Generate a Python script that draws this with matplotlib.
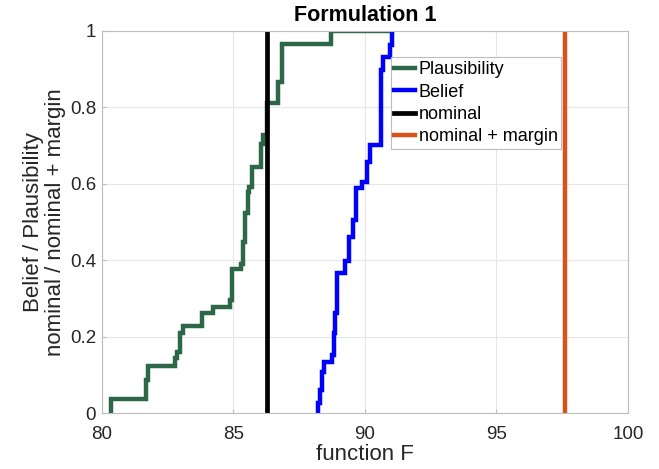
import matplotlib
matplotlib.use("Agg")
import matplotlib.pyplot as plt
import numpy as np

plt.rcParams['font.family'] = ['Liberation Sans', 'DejaVu Sans']

# Plausibility staircase: jump locations and levels after the jump
pl_x = [80.34, 81.67, 81.77, 82.79, 82.87, 82.99, 83.08, 83.80, 84.24, 84.88,
        84.97, 85.28, 85.38, 85.46, 85.55, 85.61, 85.70, 86.05, 86.12, 86.30,
        86.69, 86.84, 88.71]
pl_y = [0.037, 0.087, 0.124, 0.145, 0.161, 0.211, 0.229, 0.263, 0.279, 0.296,
        0.376, 0.390, 0.449, 0.523, 0.579, 0.592, 0.645, 0.704, 0.727, 0.810,
        0.867, 0.965, 1.0]

# Belief staircase
be_x = [88.21, 88.30, 88.38, 88.45, 88.77, 88.83, 88.88, 88.93, 89.25, 89.38,
        89.54, 89.67, 89.89, 90.08, 90.18, 90.61, 90.68, 90.94, 91.03]
be_y = [0.026, 0.061, 0.109, 0.135, 0.152, 0.209, 0.261, 0.366, 0.399, 0.462,
        0.505, 0.588, 0.605, 0.658, 0.701, 0.897, 0.932, 0.963, 1.0]

x_end = 91.03
nominal = 86.3
nominal_margin = 97.6

green = '#2c6747'
blue = '#0000ff'
orange = '#d95319'

fig = plt.figure(figsize=(6.59, 4.69), dpi=100)
ax = fig.add_axes([0.1543, 0.1188, 0.7987, 0.8157])

def stairs(xs, ys, xe):
    X = [xs[0]] + list(xs) + [xe]
    Y = [0.0] + list(ys) + [ys[-1]]
    return X, Y

X, Y = stairs(pl_x, pl_y, x_end)
ax.step(X, Y, where='post', color=green, lw=3.2, label='Plausibility',
        solid_joinstyle='miter')
X, Y = stairs(be_x, be_y, x_end)
ax.step(X, Y, where='post', color=blue, lw=3.2, label='Belief',
        solid_joinstyle='miter')
ax.plot([nominal, nominal], [0, 1], color='black', lw=3.4, label='nominal')
ax.plot([nominal_margin, nominal_margin], [0, 1], color=orange, lw=3.2,
        label='nominal + margin')

ax.set_xlim(80, 100)
ax.set_ylim(0, 1)
ax.set_xticks([80, 85, 90, 95, 100])
ax.set_yticks([0, 0.2, 0.4, 0.6, 0.8, 1])
ax.set_yticklabels(['0', '0.2', '0.4', '0.6', '0.8', '1'])
ax.grid(True, color='#e6e6e6', lw=0.8)
ax.set_axisbelow(True)
for s in ax.spines.values():
    s.set_color('#bdbdbd')
    s.set_linewidth(0.8)
ax.tick_params(direction='in', length=3, color='#bdbdbd', labelsize=13.5,
               labelcolor='#262626')
ax.tick_params(axis='x', pad=9)
ax.tick_params(axis='y', pad=4)

ax.set_title('Formulation 1', fontsize=15.5, fontweight='bold', pad=7)
ax.set_xlabel('function F', fontsize=16, color='#262626', labelpad=1)
ax.set_ylabel('Belief / Plausibility\nnominal / nominal + margin', fontsize=16,
              color='#262626', labelpad=3, linespacing=1.05)

leg = ax.legend(loc='upper left', bbox_to_anchor=(0.549, 0.93), fontsize=13,
                handlelength=1.15, handletextpad=0.2, borderpad=0.2,
                labelspacing=0.3, fancybox=False, framealpha=1,
                edgecolor='#bdbdbd', borderaxespad=0)
leg.get_frame().set_linewidth(0.8)

fig.savefig('out.png', dpi=100)
